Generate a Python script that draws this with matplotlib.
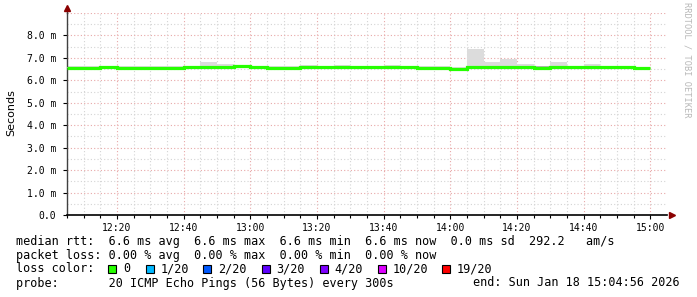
import matplotlib
matplotlib.use("Agg")
import matplotlib.pyplot as plt
from matplotlib.patches import Rectangle
import numpy as np

# ---- data (minutes after 12:00, 5-minute steps) ----
step_start = list(range(5, 180, 5))          # 12:05 ... 14:55
step_minutes = 5
median_ms = [6.56, 6.57, 6.60, 6.56, 6.57, 6.57, 6.56, 6.59, 6.58, 6.61,
             6.62, 6.59, 6.56, 6.56, 6.59, 6.59, 6.61, 6.58, 6.58, 6.61,
             6.61, 6.57, 6.57, 6.52, 6.58, 6.58, 6.61, 6.60, 6.57, 6.58,
             6.60, 6.61, 6.61, 6.58, 6.56]
max_ms = [6.64, 6.62, 6.66, 6.65, 6.66, 6.66, 6.63, 6.66, 6.80, 6.71,
          6.67, 6.66, 6.63, 6.64, 6.67, 6.64, 6.67, 6.62, 6.64, 6.67,
          6.65, 6.63, 6.62, 6.60, 7.38, 6.80, 6.93, 6.71, 6.64, 6.80,
          6.65, 6.71, 6.65, 6.63, 6.61]
min_ms = [6.53, 6.54, 6.57, 6.53, 6.54, 6.54, 6.53, 6.56, 6.55, 6.58,
          6.59, 6.56, 6.53, 6.53, 6.56, 6.56, 6.58, 6.55, 6.55, 6.58,
          6.58, 6.54, 6.54, 6.49, 6.53, 6.55, 6.58, 6.57, 6.50, 6.54,
          6.57, 6.58, 6.58, 6.55, 6.53]
q_hi_ms = [6.60, 6.59, 6.62, 6.60, 6.61, 6.60, 6.59, 6.62, 6.66, 6.64,
           6.64, 6.62, 6.59, 6.59, 6.62, 6.61, 6.63, 6.60, 6.61, 6.63,
           6.63, 6.60, 6.59, 6.56, 6.63, 6.62, 6.66, 6.63, 6.62, 6.66,
           6.62, 6.64, 6.63, 6.60, 6.58]

x_tick_pos = [20, 40, 60, 80, 100, 120, 140, 160, 180]
x_tick_labels = ["12:20", "12:40", "13:00", "13:20", "13:40", "14:00",
                 "14:20", "14:40", "15:00"]
y_tick_pos = [0, 1, 2, 3, 4, 5, 6, 7, 8]
y_tick_labels = ["0.0", "1.0 m", "2.0 m", "3.0 m", "4.0 m", "5.0 m",
                 "6.0 m", "7.0 m", "8.0 m"]

loss_labels = ["0", "1/20", "2/20", "3/20", "4/20", "10/20", "19/20"]
loss_colors = ["#26ff00", "#00b8ff", "#0059ff", "#5e00ff", "#7e00ff",
               "#dd00ff", "#ff0000"]

legend_line1 = "median rtt:  6.6 ms avg  6.6 ms max  6.6 ms min  6.6 ms now  0.0 ms sd  292.2   am/s"
legend_line2 = "packet loss: 0.00 % avg  0.00 % max  0.00 % min  0.00 % now"
legend_line3 = "loss color:"
legend_line4 = "probe:       20 ICMP Echo Pings (56 Bytes) every 300s"
legend_end = "end: Sun Jan 18 15:04:56 2026"
watermark = "RRDTOOL / TOBI OETIKER"

# ---- figure ----
W, H = 697, 297
fig = plt.figure(figsize=(W / 100, H / 100), dpi=100)
fig.patch.set_facecolor("white")

L, R, T, B = 67, 667, 13, 215
ax = fig.add_axes([L / W, 1 - B / H, (R - L) / W, (B - T) / H])
ax.set_facecolor("white")
ax.set_xlim(5, 185)
ax.set_ylim(0, 9)

edges = np.array(step_start + [step_start[-1] + step_minutes])

# grid
for v in np.arange(5, 185, 5):
    major = (v % 20 == 0)
    ax.axvline(v, color="#e8a8a8" if major else "#d4d4d4", lw=0.8,
               ls=(0, (1, 2)), zorder=0)
for v in np.arange(0.5, 9.01, 0.5):
    major = abs(v - round(v)) < 1e-6
    ax.axhline(v, color="#e8a8a8" if major else "#d4d4d4", lw=0.8,
               ls=(0, (1, 2)), zorder=0)

# smoke
ax.stairs(max_ms, edges, baseline=min_ms, fill=True, color="#dcdcdc", lw=0, zorder=2)
ax.stairs(q_hi_ms, edges, baseline=min_ms, fill=True, color="#b4b4b4", lw=0, zorder=3)
# median
ax.stairs(median_ms, edges, baseline=None, color="#26ff00", lw=2.3, zorder=4)

# axes styling
for s in ["top", "right"]:
    ax.spines[s].set_visible(False)
ax.spines["left"].set_color("#404040")
ax.spines["bottom"].set_color("#000000")
ax.spines["left"].set_linewidth(1.0)
ax.spines["bottom"].set_linewidth(1.2)
ax.set_xticks(x_tick_pos)
ax.set_xticklabels(x_tick_labels, family="DejaVu Sans Mono", fontsize=7)
ax.set_xticks(np.arange(5, 185, 5), minor=True)
ax.set_yticks(y_tick_pos)
ax.set_yticklabels(y_tick_labels, family="DejaVu Sans Mono", fontsize=7)
ax.tick_params(axis="x", which="major", length=3, width=0.8, pad=3, colors="#000000")
ax.tick_params(axis="x", which="minor", length=2, width=0.8)
ax.tick_params(axis="y", which="major", length=3, width=0.8, pad=5)
ax.tick_params(axis="y", which="minor", length=0)

# axis arrows
ax.plot([0], [1.025], transform=ax.transAxes, marker="^", ms=4, color="#8b0000",
        clip_on=False, zorder=6)
ax.plot([1.0 + 5 / (R - L)], [0], transform=ax.transAxes, marker=">", ms=4,
        color="#8b0000", clip_on=False, zorder=6)
ax.plot([0, 0], [1.0, 1.02], transform=ax.transAxes, color="#404040", lw=1.0,
        clip_on=False)

# y label
fig.text(11 / W, 1 - 113 / H, "Seconds", rotation=90, ha="center", va="center",
         fontsize=8, family="DejaVu Sans")
# watermark
fig.text(687 / W, 1 - 60 / H, watermark, rotation=-90, ha="center", va="center",
         fontsize=6.2, family="DejaVu Sans Mono", color="#b8b8b8")

# legend
mono = dict(family="DejaVu Sans Mono", fontsize=8.5, va="center", ha="left")
def fx(px):
    return px / W
def fy(py):
    return 1 - py / H

fig.text(fx(16), fy(241), legend_line1, **mono)
fig.text(fx(16), fy(255), legend_line2, **mono)
fig.text(fx(16), fy(269), legend_line3, **mono)
fig.text(fx(16), fy(283), legend_line4, **mono)
fig.text(fx(680), fy(283), legend_end, family="DejaVu Sans Mono", fontsize=8.5,
         va="center", ha="right")

box_x = [108, 145.5, 203, 261.5, 319.5, 377.5, 442]
for bx, lab, col in zip(box_x, loss_labels, loss_colors):
    fig.patches.append(Rectangle((fx(bx), fy(272.5)), 8 / W, 8 / H,
                                 transform=fig.transFigure, facecolor=col,
                                 edgecolor="black", lw=0.8))
    fig.text(fx(bx + 15), fy(269), lab, **mono)

fig.savefig("out.png", dpi=100, facecolor="white")
